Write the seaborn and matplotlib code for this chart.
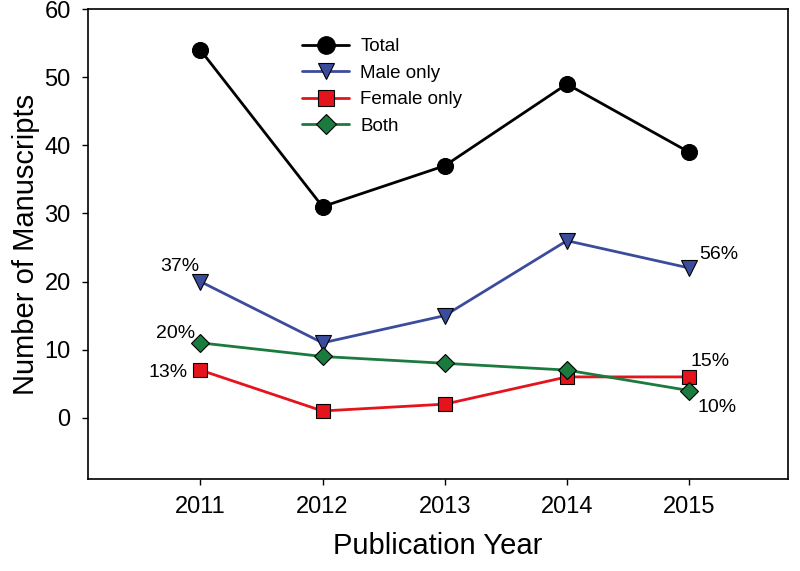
# ========== Libraries ==========

import pandas as pd
import matplotlib
matplotlib.use("Agg")
import matplotlib.pyplot as plt
import seaborn as sns

# ========== Data ==========

years = [2011, 2012, 2013, 2014, 2015]
total = [54, 31, 37, 49, 39]
male_only = [20, 11, 15, 26, 22]
female_only = [7, 1, 2, 6, 6]
both = [11, 9, 8, 7, 4]

series_names = ["Total", "Male only", "Female only", "Both"]
pct_first = ["", "37%", "13%", "20%"]
pct_last = ["", "56%", "15%", "10%"]

# ========== Plot ==========

sns.set_style("ticks")
plt.rcParams["font.family"] = ["Liberation Sans", "DejaVu Sans"]
plt.rcParams["text.color"] = "black"
plt.rcParams["axes.labelcolor"] = "black"
plt.rcParams["xtick.color"] = "black"
plt.rcParams["ytick.color"] = "black"

df = pd.DataFrame({"Year": years, "Total": total, "Male only": male_only,
                   "Female only": female_only, "Both": both})

fig = plt.figure(figsize=(8, 5.71), dpi=100)
ax = fig.add_axes([0.11, 0.161, 0.875, 0.823])

styles = {
    "Total": dict(color="black", marker="o", mfc="black", ms=11.5),
    "Male only": dict(color="#3c4c9c", marker="v", mfc="#3c4c9c", ms=11),
    "Female only": dict(color="#e3141b", marker="s", mfc="#e3141b", ms=10),
    "Both": dict(color="#1b7a3e", marker="D", mfc="#1b7a3e", ms=9.5),
}

for name in series_names:
    st = styles[name]
    sns.lineplot(data=df, x="Year", y=name, ax=ax, label=name,
                 color=st["color"], marker=st["marker"], markersize=st["ms"],
                 markerfacecolor=st["mfc"], markeredgecolor="black",
                 markeredgewidth=0.8, linewidth=2)

# percentage labels
fs = 14
ax.annotate(pct_first[1], (years[0], male_only[0]), xytext=(-1, 5),
            textcoords="offset points", ha="right", va="bottom", fontsize=fs)
ax.annotate(pct_first[3], (years[0], both[0]), xytext=(-4, 7),
            textcoords="offset points", ha="right", va="center", fontsize=fs)
ax.annotate(pct_first[2], (years[0], female_only[0]), xytext=(-9, -2),
            textcoords="offset points", ha="right", va="center", fontsize=fs)
ax.annotate(pct_last[1], (years[-1], male_only[-1]), xytext=(7, 10),
            textcoords="offset points", ha="left", va="center", fontsize=fs)
ax.annotate(pct_last[2], (years[-1], female_only[-1]), xytext=(1, 11),
            textcoords="offset points", ha="left", va="center", fontsize=fs)
ax.annotate(pct_last[3], (years[-1], both[-1]), xytext=(6, -12),
            textcoords="offset points", ha="left", va="center", fontsize=fs)

ax.set_xlim(2010.08, 2015.81)
ax.set_ylim(-9, 60)
ax.set_xticks(years)
ax.set_yticks([0, 10, 20, 30, 40, 50, 60])
ax.tick_params(axis="both", labelsize=17, direction="out", length=4.5,
               width=1, pad=8)
ax.set_xlabel("Publication Year", fontsize=21, labelpad=10)
ax.set_ylabel("Number of Manuscripts", fontsize=21, labelpad=3)
for sp in ax.spines.values():
    sp.set_linewidth(1.2)
    sp.set_color("black")
    sp.set_visible(True)

ax.legend(loc="upper left", bbox_to_anchor=(0.282, 0.974), frameon=False,
          fontsize=13.5, handlelength=2.5, labelspacing=0.5,
          handletextpad=0.6, markerscale=1.1)

fig.savefig("out.png", dpi=100)
